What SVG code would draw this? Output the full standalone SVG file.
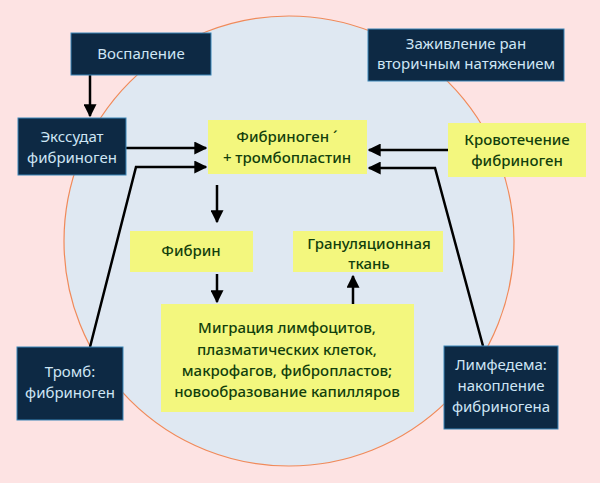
<svg xmlns="http://www.w3.org/2000/svg" width="600" height="483" viewBox="0 0 600 483">
<style>
.dark rect{fill:#0d2944;stroke:#3b86b8;stroke-width:1}
.dark text{fill:#cfe6f5;font-family:"Noto Sans","Open Sans",sans-serif;font-size:15px;text-anchor:middle}
.yel rect{fill:#f3f77e}
.yel text{fill:#123f0c;font-family:"Noto Sans","Open Sans",sans-serif;font-size:15px;font-weight:500;text-anchor:middle}
.conn path{fill:none;stroke:#000;stroke-width:2.5}
</style>
<defs>
<marker id="ah" viewBox="0 0 10 10" refX="9" refY="5" markerWidth="5.2" markerHeight="5.2" orient="auto" markerUnits="strokeWidth">
<path d="M0,0 L10,5 L0,10 Z" fill="#000"/>
</marker>
</defs>
<rect x="0" y="0" width="600" height="483" fill="#fde3e3"/>
<circle cx="289" cy="241" r="225" fill="#dfe8f2" stroke="#f08a5a" stroke-width="1.2"/>

<g class="conn">
<path d="M90,75 L90,116" marker-end="url(#ah)"/>
<path d="M126,148 L206,148" marker-end="url(#ah)"/>
<path d="M90,347 L136,167 L206,167" marker-end="url(#ah)"/>
<path d="M448,150 L369,150" marker-end="url(#ah)"/>
<path d="M483,346 L435,168 L369,168" marker-end="url(#ah)"/>
<path d="M217,185 L217,222" marker-end="url(#ah)"/>
<path d="M217,274 L217,302" marker-end="url(#ah)"/>
<path d="M353,304 L353,276" marker-end="url(#ah)"/>
</g>

<g id="vospalenie" class="dark"><rect x="71" y="33" width="140" height="42"/><text x="141" y="59">Воспаление</text></g>
<g id="exsudat" class="dark"><rect x="18" y="118" width="108" height="57"/><text x="72" y="142">Экссудат</text><text x="72" y="163">фибриноген</text></g>
<g id="zazhivlenie" class="dark"><rect x="368" y="29" width="196" height="52"/><text x="466" y="49">Заживление ран</text><text x="466" y="69">вторичным натяжением</text></g>
<g id="tromb" class="dark"><rect x="17" y="347" width="106" height="73"/><text x="70" y="377">Тромб:</text><text x="70" y="398">фибриноген</text></g>
<g id="limfedema" class="dark"><rect x="444" y="346" width="114" height="83"/><text x="501" y="370">Лимфедема:</text><text x="501" y="391">накопление</text><text x="501" y="412">фибриногена</text></g>

<g id="fibrinogen" class="yel"><rect x="208" y="120" width="159" height="54"/><text x="287" y="142">Фибриноген ´</text><text x="287" y="163">+ тромбопластин</text></g>
<g id="krovotechenie" class="yel"><rect x="448" y="123" width="138" height="54"/><text x="517" y="145">Кровотечение</text><text x="517" y="166">фибриноген</text></g>
<g id="fibrin" class="yel"><rect x="130" y="231" width="123" height="41"/><text x="191" y="256">Фибрин</text></g>
<g id="granul" class="yel"><rect x="293" y="231" width="150" height="41"/><text x="369" y="249">Грануляционная</text><text x="369" y="269">ткань</text></g>
<g id="migracia" class="yel"><rect x="161" y="304" width="253" height="108"/><text x="287" y="333">Миграция лимфоцитов,</text><text x="287" y="355">плазматических клеток,</text><text x="287" y="376">макрофагов, фибропластов;</text><text x="287" y="397">новообразование капилляров</text></g>
</svg>
